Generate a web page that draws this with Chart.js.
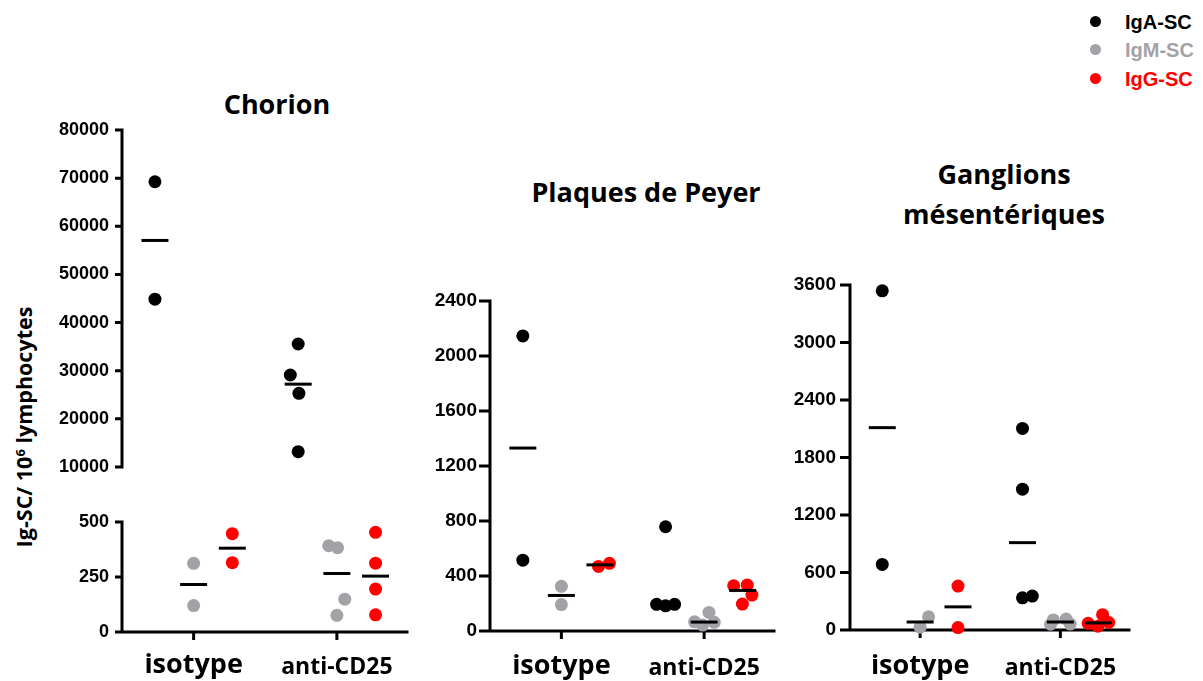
<!DOCTYPE html>
<html>
<head>
<meta charset="utf-8">
<script src="https://cdn.jsdelivr.net/npm/chart.js@4.4.1/dist/chart.umd.min.js"></script>
<style>
  html, body { margin: 0; padding: 0; background: #fff; }
  body { width: 1203px; height: 681px; position: relative; overflow: hidden; }
  canvas { position: absolute; }
  .title { position: absolute; width: 400px; text-align: center; font: 700 27px "Open Sans", sans-serif; line-height: 40px; color: #000; white-space: nowrap; }
  .ytitle { position: absolute; left: 24px; top: 427px; transform: translate(-50%, -50%) rotate(-90deg); font: 700 21.5px "Open Sans", sans-serif; line-height: 1; white-space: nowrap; color: #000; }
  .ytitle sup { font-size: 13px; vertical-align: 7px; line-height: 0; }
  .legend-row { position: absolute; left: 1089px; height: 20px; font: 700 20px "Liberation Sans", Arial, sans-serif; line-height: 20px; white-space: nowrap; }
  .legend-row .dot { position: absolute; left: 1px; top: 4px; width: 11px; height: 11px; border-radius: 50%; }
  .legend-row .txt { position: absolute; left: 36px; top: 0; }
</style>
</head>
<body>
<div class="title" style="left:77px; top:84px;">Chorion</div>
<div class="title" style="left:446px; top:172px;">Plaques de Peyer</div>
<div class="title" style="left:804px; top:154px;">Ganglions<br>mésentériques</div>
<div class="ytitle">Ig-SC/ 10<sup>6</sup> lymphocytes</div>
<div id="legend"></div>

<script>
// Groups on the x axis and the three antibody-secreting cell series
const groups = ['isotype', 'anti-CD25'];
const seriesNames = ['IgA-SC', 'IgM-SC', 'IgG-SC'];
const seriesColors = ['#000000', '#a3a3a7', '#ff0000'];

// Chorion: values per group [isotype, anti-CD25]
const chorionIgA = [[69250, 44865], [35550, 29110, 25310, 13180]];
const chorionIgM = [[312, 120], [392, 383, 149, 76]];
const chorionIgG = [[447, 315], [453, 313, 195, 78]];
const chorionIgASpread = [[0, 0], [0, -0.055, 0.005, 0]];
const chorionIgMSpread = [[0, 0], [-0.057, 0.005, 0.055, 0]];
const chorionIgGSpread = [[0, 0], [0, 0, 0, 0]];
const chorionHighTicks = [10000, 20000, 30000, 40000, 50000, 60000, 70000, 80000];
const chorionLowTicks = [0, 250, 500];

// Plaques de Peyer
const peyerIgA = [[2146, 515], [758, 194, 183, 194]];
const peyerIgM = [[325, 192], [67, 135, 43, 63]];
const peyerIgG = [[470, 492], [329, 334, 261, 196]];
const peyerIgASpread = [[0, 0], [0, -0.063, 0, 0.063]];
const peyerIgMSpread = [[0, 0], [-0.067, 0.034, -0.011, 0.071]];
const peyerIgGSpread = [[-0.01, 0.067], [-0.063, 0.032, 0.065, -0.002]];
const peyerTicks = [0, 400, 800, 1200, 1600, 2000, 2400];

// Ganglions mésentériques
const ganglionsIgA = [[3539, 684], [2103, 1469, 336, 354]];
const ganglionsIgM = [[137, 30], [60, 105, 115, 62]];
const ganglionsIgG = [[458, 25], [70, 160, 78, 40]];
const ganglionsIgASpread = [[0, 0], [0, 0, 0, 0.07]];
const ganglionsIgMSpread = [[0.06, 0], [-0.07, -0.05, 0.041, 0.07]];
const ganglionsIgGSpread = [[0, 0], [-0.072, 0.031, 0.075, -0.003]];
const ganglionsTicks = [0, 600, 1200, 1800, 2400, 3000, 3600];

// Horizontal position of each series inside its group (category units)
const seriesOffset = [-0.27, 0, 0.27];

const AXIS_W = 3;
const X_TICK_LEN = 8;
const CLEAR = 'rgba(0,0,0,0)';

function median(arr) {
  const s = arr.slice().sort((a, b) => a - b);
  const m = Math.floor(s.length / 2);
  return s.length % 2 ? s[m] : (s[m - 1] + s[m]) / 2;
}

function pointsFor(values, spread, si) {
  const pts = [];
  values.forEach((grp, g) => grp.forEach((v, k) => {
    pts.push({ x: g + 1 + seriesOffset[si] + spread[g][k], y: v });
  }));
  return pts;
}

function mediansFor(values, si) {
  return values.map((grp, g) => ({ x: g + 1 + seriesOffset[si], y: median(grp) }));
}

// Thick black axis lines and tick marks, placed from the chart's own scales
const axisPainter = {
  id: 'axisPainter',
  beforeDatasetsDraw(chart, args, opts) {
    const { ctx, chartArea } = chart;
    const xs = chart.scales.x, ys = chart.scales.y;
    const h = AXIS_W / 2;
    const ax = chartArea.left;
    ctx.save();
    ctx.strokeStyle = '#000';
    ctx.lineWidth = AXIS_W;
    ctx.lineCap = 'butt';
    ctx.beginPath();
    ctx.moveTo(ax, ys.top - h);
    ctx.lineTo(ax, ys.bottom + h);
    ys.ticks.forEach(t => {
      const py = ys.getPixelForValue(t.value);
      ctx.moveTo(ax - opts.yTickLen, py);
      ctx.lineTo(ax, py);
    });
    if (opts.showX) {
      const by = chartArea.bottom;
      ctx.moveTo(ax - h, by);
      ctx.lineTo(chartArea.right, by);
      xs.ticks.forEach(t => {
        const px = xs.getPixelForValue(t.value);
        ctx.moveTo(px, by);
        ctx.lineTo(px, by + X_TICK_LEN);
      });
    }
    ctx.stroke();
    ctx.restore();
  }
};

function yScale(ticks, fontSize, tickLen, gap, width) {
  return {
    type: 'linear',
    min: ticks[0],
    max: ticks[ticks.length - 1],
    afterBuildTicks: s => { s.ticks = ticks.map(v => ({ value: v })); },
    afterFit: s => { s.width = width; },
    ticks: {
      callback: v => String(v),
      color: '#000',
      padding: gap,
      font: { family: '"Liberation Sans", Arial, sans-serif', weight: 'bold', size: fontSize }
    },
    grid: { display: true, drawOnChartArea: false, drawTicks: true, tickLength: tickLen, color: CLEAR, tickColor: CLEAR },
    border: { display: false }
  };
}

function xScale(show, height, gap) {
  return {
    type: 'linear',
    display: show,
    min: 0.5,
    max: 2.5,
    afterBuildTicks: s => { s.ticks = groups.map((g, i) => ({ value: i + 1 })); },
    afterFit: s => { s.height = height; },
    ticks: {
      callback: (v, i) => groups[i],
      color: '#000',
      padding: gap,
      autoSkip: false,
      maxRotation: 0,
      font: ctx => ctx.index === 0
        ? { family: '"Open Sans", sans-serif', weight: 'bold', size: 27, lineHeight: 1.644 }
        : { family: '"Open Sans", sans-serif', weight: 'bold', size: 23, lineHeight: 2.12 }
    },
    grid: { display: true, drawOnChartArea: false, drawTicks: true, tickLength: X_TICK_LEN, color: CLEAR, tickColor: CLEAR },
    border: { display: false }
  };
}

function buildPanel(p) {
  const canvas = document.createElement('canvas');
  canvas.width = p.w;
  canvas.height = p.h;
  canvas.style.left = p.x + 'px';
  canvas.style.top = p.y + 'px';
  canvas.style.width = p.w + 'px';
  canvas.style.height = p.h + 'px';
  document.body.appendChild(canvas);

  const datasets = [];
  p.series.forEach(s => {
    datasets.push({
      label: seriesNames[s.index] + ' median',
      data: mediansFor(s.values, s.index),
      pointStyle: 'line',
      pointRadius: 13.5,
      pointBorderWidth: 3,
      pointBorderColor: '#000',
      pointBackgroundColor: '#000',
      showLine: false,
      clip: false,
      order: 0
    });
    datasets.push({
      label: seriesNames[s.index],
      data: pointsFor(s.values, s.spread, s.index),
      pointStyle: 'circle',
      pointRadius: 6.5,
      pointBorderWidth: 0,
      pointBackgroundColor: seriesColors[s.index],
      pointBorderColor: seriesColors[s.index],
      showLine: false,
      clip: false,
      order: 1
    });
  });

  new Chart(canvas, {
    type: 'scatter',
    data: { datasets },
    plugins: [axisPainter],
    options: {
      responsive: false,
      animation: false,
      events: [],
      devicePixelRatio: 1,
      layout: { padding: p.padding },
      plugins: {
        legend: { display: false },
        tooltip: { enabled: false },
        title: { display: false },
        axisPainter: { showX: p.showX, yTickLen: p.tickLen }
      },
      scales: {
        x: xScale(p.showX, p.xHeight, p.xGap),
        y: yScale(p.ticks, p.fontSize, p.tickLen, p.tickPad, p.yWidth)
      }
    }
  });
}

// Chorion, upper segment of the broken axis (IgA)
buildPanel({
  x: 0, y: 110, w: 425, h: 377,
  padding: { top: 20, right: 5, bottom: 20, left: 0 },
  yWidth: 122, ticks: chorionHighTicks, fontSize: 18, tickLen: 7, tickPad: 6,
  showX: false, xHeight: 0, xGap: 0,
  series: [{ index: 0, values: chorionIgA, spread: chorionIgASpread }]
});

// Chorion, lower segment (IgM, IgG)
buildPanel({
  x: 0, y: 502, w: 425, h: 179,
  padding: { top: 20, right: 5, bottom: 0, left: 0 },
  yWidth: 122, ticks: chorionLowTicks, fontSize: 18, tickLen: 7, tickPad: 6,
  showX: true, xHeight: 49, xGap: 3,
  series: [
    { index: 1, values: chorionIgM, spread: chorionIgMSpread },
    { index: 2, values: chorionIgG, spread: chorionIgGSpread }
  ]
});

// Plaques de Peyer
buildPanel({
  x: 400, y: 281, w: 392, h: 400,
  padding: { top: 20, right: 5, bottom: 0, left: 0 },
  yWidth: 90, ticks: peyerTicks, fontSize: 19, tickLen: 11, tickPad: 2,
  showX: true, xHeight: 50, xGap: 5,
  series: [
    { index: 0, values: peyerIgA, spread: peyerIgASpread },
    { index: 1, values: peyerIgM, spread: peyerIgMSpread },
    { index: 2, values: peyerIgG, spread: peyerIgGSpread }
  ]
});

// Ganglions mésentériques
buildPanel({
  x: 780, y: 265, w: 367, h: 416,
  padding: { top: 20, right: 5, bottom: 0, left: 0 },
  yWidth: 70, ticks: ganglionsTicks, fontSize: 19, tickLen: 10, tickPad: 4,
  showX: true, xHeight: 51, xGap: 6,
  series: [
    { index: 0, values: ganglionsIgA, spread: ganglionsIgASpread },
    { index: 1, values: ganglionsIgM, spread: ganglionsIgMSpread },
    { index: 2, values: ganglionsIgG, spread: ganglionsIgGSpread }
  ]
});

// Legend
const legendTops = [12, 40, 69];
const legend = document.getElementById('legend');
seriesNames.forEach((name, i) => {
  const row = document.createElement('div');
  row.className = 'legend-row';
  row.style.top = legendTops[i] + 'px';
  row.style.color = seriesColors[i];
  row.innerHTML = '<span class="dot" style="background:' + seriesColors[i] + '"></span><span class="txt">' + name + '</span>';
  legend.appendChild(row);
});
</script>
</body>
</html>
